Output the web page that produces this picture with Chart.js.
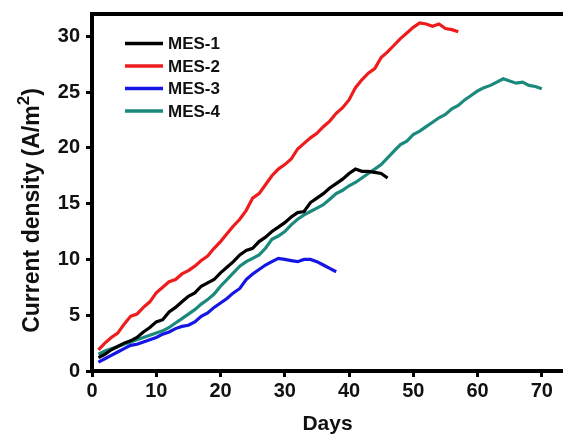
<!DOCTYPE html>
<html>
<head>
<meta charset="utf-8">
<script src="https://cdn.jsdelivr.net/npm/chart.js@4"></script>
<style>
  html, body { margin: 0; padding: 0; background: #fff; overflow: hidden; }
  #wrap { width: 563px; height: 437px; }
</style>
</head>
<body>
<div id="wrap"><canvas id="chart" width="563" height="437"></canvas></div>
<script>
// values, one per day starting at day 1
const mes1 = [1.2, 1.5, 1.9, 2.2, 2.5, 2.7, 3.0, 3.5, 3.9, 4.4, 4.6, 5.3, 5.7, 6.2, 6.7, 7.0, 7.6, 7.9, 8.2, 8.8,
    9.3, 9.8, 10.4, 10.8, 11.0, 11.6, 12.0, 12.5, 12.9, 13.3, 13.8, 14.2, 14.3, 15.1, 15.5, 15.9, 16.4, 16.8, 17.2, 17.7,
    18.1, 17.9, 17.9, 17.8, 17.7, 17.3];
const mes2 = [1.9, 2.5, 3.0, 3.4, 4.2, 4.9, 5.1, 5.7, 6.2, 7.0, 7.5, 8.0, 8.2, 8.7, 9.0, 9.4, 9.9, 10.3, 11.0, 11.6,
    12.3, 13.0, 13.6, 14.4, 15.5, 15.9, 16.7, 17.5, 18.1, 18.5, 19.0, 19.9, 20.4, 20.9, 21.3, 21.9, 22.4, 23.1, 23.6, 24.3,
    25.4, 26.1, 26.7, 27.1, 28.1, 28.6, 29.2, 29.8, 30.3, 30.8, 31.2, 31.1, 30.9, 31.1, 30.7, 30.6, 30.4];
const mes3 = [0.8, 1.1, 1.4, 1.7, 2.0, 2.3, 2.4, 2.6, 2.8, 3.0, 3.3, 3.5, 3.8, 4.0, 4.1, 4.4, 4.9, 5.2, 5.7, 6.1,
    6.5, 7.0, 7.4, 8.2, 8.7, 9.1, 9.5, 9.8, 10.1, 10.0, 9.9, 9.8, 10.0, 10.0, 9.8, 9.5, 9.2, 8.9];
const mes4 = [1.5, 1.8, 2.0, 2.2, 2.4, 2.6, 2.8, 3.0, 3.2, 3.4, 3.6, 3.9, 4.3, 4.7, 5.1, 5.5, 6.0, 6.4, 6.9, 7.6,
    8.2, 8.8, 9.4, 9.8, 10.1, 10.4, 11.0, 11.8, 12.1, 12.5, 13.1, 13.6, 14.0, 14.3, 14.6, 14.9, 15.4, 15.9, 16.2, 16.6,
    16.9, 17.3, 17.7, 18.1, 18.5, 19.1, 19.7, 20.3, 20.6, 21.2, 21.5, 21.9, 22.3, 22.7, 23.0, 23.5, 23.8, 24.3, 24.7, 25.1,
    25.4, 25.6, 25.9, 26.2, 26.0, 25.8, 25.9, 25.6, 25.5, 25.3];

const seriesNames = ['MES-1', 'MES-2', 'MES-3', 'MES-4'];
const seriesColors = ['#000000', '#ee1c1c', '#1515e6', '#1b8a7c'];
const seriesValues = [mes1, mes2, mes3, mes4];

const toPoints = (vals) => vals.map((v, i) => ({ x: i + 1, y: v }));

const FONT = "'Liberation Sans', Arial, sans-serif";

// top frame line, legend inside the plot, y title with a real superscript
const framePlugin = {
    id: 'frame',
    afterDraw(chart) {
        const { ctx, chartArea } = chart;
        ctx.save();
        ctx.strokeStyle = '#000';
        ctx.lineWidth = 4;
        ctx.beginPath();
        ctx.moveTo(chartArea.left - 2, chartArea.top);
        ctx.lineTo(chartArea.right, chartArea.top);
        ctx.stroke();

        ctx.font = `bold 17px ${FONT}`;
        ctx.textBaseline = 'middle';
        chart.data.datasets.forEach((ds, i) => {
            const y = 43.5 + i * 22.5;
            ctx.strokeStyle = ds.borderColor;
            ctx.lineWidth = 3.5;
            ctx.beginPath();
            ctx.moveTo(125, y);
            ctx.lineTo(163, y);
            ctx.stroke();
            ctx.fillStyle = '#111';
            ctx.fillText(ds.label, 168, y + 1);
        });

        // y axis title
        const main = 'Current density (A/m';
        const sup = '2';
        const tail = ')';
        ctx.fillStyle = '#111';
        ctx.textBaseline = 'alphabetic';
        ctx.font = `bold 23px ${FONT}`;
        const w1 = ctx.measureText(main).width;
        const w3 = ctx.measureText(tail).width;
        ctx.font = `bold 17px ${FONT}`;
        const w2 = ctx.measureText(sup).width;
        const total = w1 + w2 + w3;
        const cy = (chartArea.top + chartArea.bottom) / 2 + 18;
        ctx.translate(39, cy);
        ctx.rotate(-Math.PI / 2);
        let x = -total / 2;
        ctx.font = `bold 23px ${FONT}`;
        ctx.fillText(main, x, 0);
        x += w1;
        ctx.font = `bold 17px ${FONT}`;
        ctx.fillText(sup, x, -10);
        x += w2;
        ctx.font = `bold 23px ${FONT}`;
        ctx.fillText(tail, x, 0);
        ctx.restore();
    }
};

new Chart(document.getElementById('chart'), {
    type: 'line',
    data: {
        datasets: seriesNames.map((name, i) => ({
            label: name,
            data: toPoints(seriesValues[i]),
            borderColor: seriesColors[i],
            borderWidth: 3.2,
            pointRadius: 0,
            tension: 0,
            fill: false
        }))
    },
    options: {
        responsive: false,
        animation: false,
        layout: { padding: { top: 14, right: 0, left: 0, bottom: 0 } },
        plugins: {
            legend: { display: false },
            tooltip: { enabled: false }
        },
        scales: {
            x: {
                type: 'linear',
                min: 0,
                max: 73.3,
                afterFit(scale) { scale.height = 66; scale.paddingLeft = 0; scale.paddingRight = 0; },
                border: { display: true, color: '#000', width: 4 },
                grid: { display: true, drawOnChartArea: false, drawTicks: true, tickLength: 6, tickWidth: 3, color: '#000' },
                ticks: {
                    stepSize: 10,
                    includeBounds: false,
                    color: '#111',
                    padding: 2,
                    font: { family: FONT, size: 20, weight: 'bold' }
                },
                title: {
                    display: true,
                    text: 'Days',
                    color: '#111',
                    padding: { top: 6, bottom: 0 },
                    font: { family: FONT, size: 21, weight: 'bold' }
                }
            },
            y: {
                min: 0,
                max: 32,
                afterFit(scale) { scale.width = 92; scale.paddingTop = 0; scale.paddingBottom = 0; },
                border: { display: true, color: '#000', width: 4 },
                grid: { display: true, drawOnChartArea: false, drawTicks: true, tickLength: 6, tickWidth: 3, color: '#000' },
                ticks: {
                    stepSize: 5,
                    includeBounds: false,
                    color: '#111',
                    padding: 6,
                    font: { family: FONT, size: 20, weight: 'bold' }
                },
                title: { display: false }
            }
        }
    },
    plugins: [framePlugin]
});
</script>
</body>
</html>
